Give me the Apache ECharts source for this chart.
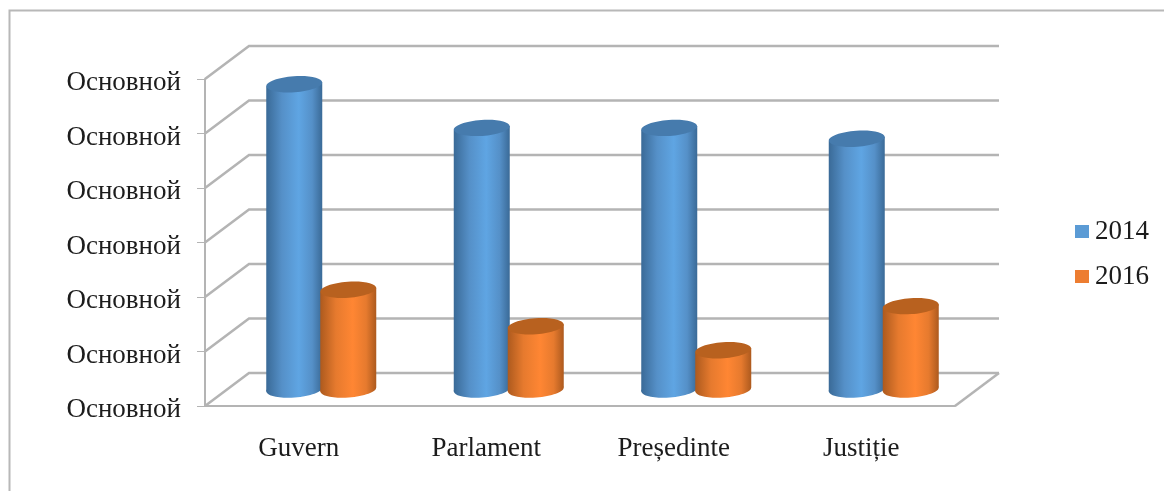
<!DOCTYPE html>
<html>
<head>
<meta charset="utf-8">
<style>
  html, body { margin: 0; padding: 0; background: #fff; }
  #chart { width: 1164px; height: 491px; }
</style>
<script src="https://cdn.jsdelivr.net/npm/echarts@6/dist/echarts.min.js"></script>
</head>
<body>
<div id="chart"></div>
<script>
const categories = ['Guvern', 'Parlament', 'Președinte', 'Justiție'];
const values2014 = [56, 48, 48, 46];
const values2016 = [18.3, 11.6, 7.2, 15.3];
const tickValues = [0, 10, 20, 30, 40, 50, 60];
const tickLabels = ['Основной', 'Основной', 'Основной', 'Основной', 'Основной', 'Основной', 'Основной'];

const DEPTH_X = 44;
const DEPTH_Y = 33;
const AXIS_COLOR = '#b4b4b4';
const TEXT_COLOR = '#1c1c1c';
const FONT = '"Liberation Serif", serif';

// Back wall and floor: each tick runs from the front axis into the depth, then across the wall.
function renderWall(params, api) {
  const rect = params.coordSys;
  const y = api.coord([0, api.value(1)])[1];
  const x0 = rect.x;
  const x1 = rect.x + rect.width;
  const children = [{
    type: 'polyline',
    shape: { points: [[x0, y], [x0 + DEPTH_X, y - DEPTH_Y], [x1 + DEPTH_X, y - DEPTH_Y]] },
    style: { fill: null, stroke: AXIS_COLOR, lineWidth: 2.5 }
  }];
  if (params.dataIndex === 0) {
    children.push({
      type: 'line',
      shape: { x1: x1, y1: y, x2: x1 + DEPTH_X, y2: y - DEPTH_Y },
      style: { stroke: AXIS_COLOR, lineWidth: 2.5 }
    });
  }
  return { type: 'group', children: children };
}

// A tilted cylinder standing halfway into the depth, placed beside the band centre.
function cylinderRenderer(offset, edge, mid, cap) {
  return function (params, api) {
    const top = api.coord([api.value(0), api.value(1)]);
    const base = api.coord([api.value(0), 0]);
    const rx = 28;
    const ry = 8;
    const tilt = 0.07;
    const lift = rx * Math.sin(tilt);
    const cx = top[0] + DEPTH_X / 2 + offset;
    const topY = top[1] - DEPTH_Y / 2;
    const baseY = base[1] - DEPTH_Y / 2;
    const fill = {
      type: 'linear', x: 0, y: 0, x2: 1, y2: 0,
      colorStops: [
        { offset: 0, color: edge },
        { offset: 0.28, color: mid[0] },
        { offset: 0.58, color: mid[1] },
        { offset: 0.82, color: mid[0] },
        { offset: 1, color: edge }
      ]
    };
    return {
      type: 'group',
      children: [
        {
          type: 'ellipse', shape: { cx: cx, cy: baseY, rx: rx, ry: ry },
          rotation: tilt, originX: cx, originY: baseY, style: { fill: fill }
        },
        {
          type: 'polygon',
          shape: { points: [
            [cx - rx, topY + lift], [cx + rx, topY - lift],
            [cx + rx, baseY - lift], [cx - rx, baseY + lift]
          ] },
          style: { fill: fill }
        },
        {
          type: 'ellipse', shape: { cx: cx, cy: topY, rx: rx, ry: ry },
          rotation: tilt, originX: cx, originY: topY, style: { fill: cap }
        }
      ]
    };
  };
}

const chart = echarts.init(document.getElementById('chart'));
chart.setOption({
  animation: false,
  backgroundColor: '#ffffff',
  graphic: [{
    type: 'polyline',
    silent: true,
    shape: { points: [[9.5, 491], [9.5, 10.5], [1164, 10.5]] },
    style: { fill: null, stroke: '#b8b8b8', lineWidth: 2 }
  }],
  legend: {
    left: 1070,
    top: 213,
    orient: 'vertical',
    itemWidth: 14,
    itemHeight: 13,
    itemGap: 18,
    icon: 'rect',
    data: ['2014', '2016'],
    textStyle: { fontFamily: FONT, fontSize: 27, color: TEXT_COLOR, padding: [0, 0, 0, 1] }
  },
  grid: { left: 205, top: 79, width: 750, height: 327 },
  xAxis: {
    type: 'category',
    data: categories,
    axisLine: { lineStyle: { color: AXIS_COLOR, width: 2 } },
    axisTick: { length: 10, lineStyle: { color: AXIS_COLOR, width: 1 } },
    axisLabel: { margin: 29, fontFamily: FONT, fontSize: 27, color: TEXT_COLOR }
  },
  yAxis: {
    type: 'value',
    min: 0,
    max: 60,
    interval: 10,
    axisLine: { show: true, lineStyle: { color: AXIS_COLOR, width: 2 } },
    axisTick: { show: true, length: 8, lineStyle: { color: AXIS_COLOR, width: 1 } },
    splitLine: { show: false },
    axisLabel: {
      margin: 24,
      fontFamily: FONT,
      fontSize: 27,
      color: TEXT_COLOR,
      verticalAlign: 'top',
      lineHeight: 8,
      formatter: function (v) { return tickLabels[tickValues.indexOf(v)]; }
    }
  },
  series: [
    {
      name: 'wall',
      type: 'custom',
      silent: true,
      z: 1,
      clip: false,
      renderItem: renderWall,
      data: tickValues.map(function (v) { return [0, v]; })
    },
    {
      name: '2014',
      type: 'custom',
      z: 2,
      clip: false,
      itemStyle: { color: '#5b9bd5' },
      renderItem: cylinderRenderer(-26.5, '#3a6a97', ['#5590c8', '#5fa5e3'], '#467bad'),
      data: values2014.map(function (v, i) { return [i, v]; })
    },
    {
      name: '2016',
      type: 'custom',
      z: 3,
      clip: false,
      itemStyle: { color: '#ed7d31' },
      renderItem: cylinderRenderer(27.5, '#ad5a1e', ['#e67a2e', '#ff8633'], '#b8611f'),
      data: values2016.map(function (v, i) { return [i, v]; })
    }
  ]
});
</script>
</body>
</html>
